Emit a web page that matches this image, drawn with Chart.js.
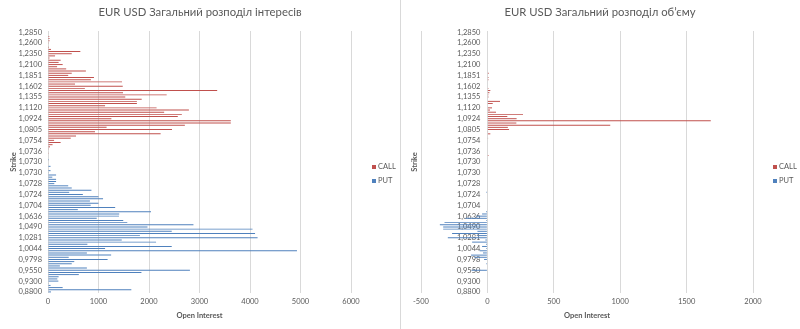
<!DOCTYPE html>
<html>
<head>
<meta charset="utf-8">
<script src="https://cdn.jsdelivr.net/npm/chart.js@4/dist/chart.umd.min.js"></script>
<style>
  html, body { margin: 0; padding: 0; background: #ffffff; }
  #wrap { position: relative; width: 800px; height: 329px; overflow: hidden; }
  .panel { position: absolute; top: 0; width: 400px; height: 329px; }
  #left { left: 0; }
  #right { left: 400px; }
  #divider { position: absolute; left: 400px; top: 0; width: 1px; height: 329px; background: #d9d9d9; }
</style>
</head>
<body>
<div id="wrap">
  <canvas id="left" class="panel" width="400" height="329"></canvas>
  <canvas id="right" class="panel" width="400" height="329"></canvas>
  <div id="divider"></div>
</div>
<script>
// Strike prices, bottom to top
const strikes = [
  '0,8800','0,8900','0,9000','0,9100','0,9200','0,9300','0,9350','0,9400','0,9450','0,9500',
  '0,9550','0,9600','0,9650','0,9700','0,9750','0,9798','0,9850','0,9900','0,9950','1,0000',
  '1,0044','1,0100','1,0150','1,0200','1,0250','1,0281','1,0300','1,0350','1,0400','1,0450',
  '1,0490','1,0500','1,0550','1,0600','1,0620','1,0636','1,0650','1,0670','1,0680','1,0690',
  '1,0704','1,0710','1,0715','1,0718','1,0720','1,0724','1,0725','1,0726','1,0727','1,0727',
  '1,0728','1,0728','1,0729','1,0729','1,0729','1,0730','1,0730','1,0730','1,0730','1,0730',
  '1,0730','1,0731','1,0731','1,0732','1,0734','1,0736','1,0738','1,0740','1,0745','1,0750',
  '1,0754','1,0760','1,0770','1,0780','1,0790','1,0805','1,0830','1,0850','1,0880','1,0900',
  '1,0924','1,0950','1,1000','1,1050','1,1100','1,1120','1,1150','1,1200','1,1250','1,1300',
  '1,1355','1,1400','1,1450','1,1500','1,1550','1,1602','1,1650','1,1700','1,1750','1,1800',
  '1,1851','1,1900','1,1950','1,2000','1,2050','1,2100','1,2150','1,2200','1,2250','1,2300',
  '1,2350','1,2400','1,2450','1,2500','1,2550','1,2600','1,2650','1,2700','1,2750','1,2800',
  '1,2850'
];

// Open interest: puts cover the lower strikes, calls the upper ones
const putOpenInterest = [
  60, 1650, 290, 50, 15, 205, 185, 210, 610, 1850,
  2810, 770, 235, 470, 520, 1180, 410, 1250, 770, 4930,
  1130, 2450, 780, 2140, 1460, 4150, 1820, 4100, 2450, 4050,
  1970, 2880, 1570, 1490, 965, 1405, 1410, 2040, 590, 1330,
  845, 1000, 830, 1090, 1000, 690, 420, 860, 470, 400,
  125, 160, 160, 85, 160, 15, 50, 0, 50, 0,
  0, 20
];
const callOpenInterest = [
  0, 0, 5, 10, 15, 40, 90, 250, 120, 450,
  555, 2230, 930, 2455, 1160, 2710, 3620, 3620, 1255, 2570,
  2650, 2300, 2790, 2150, 1130, 1760, 1760, 1855, 1530, 2350,
  1485, 3350, 730, 1480, 535, 1465, 850, 910, 400, 470,
  750, 360, 180, 290, 210, 250, 30, 140, 470, 640,
  60, 20, 0, 15, 30, 30, 25, 0, 10
];

// Volume (puts shown on the negative side)
const putVolume = [
  0, 0, 0, 0, 0, 0, 0, 0, 0, 0,
  -120, 0, 0, -8, 0, -25, -98, -123, -33, -58,
  -8, -40, -10, -115, -15, -298, -75, -266, -75, -333,
  -333, -358, -323, -8, -165, -83, -40, -10, 0, 0,
  0, 0, 0, 0, 0, 0, -8, 0, 0, 0,
  0, 0, 0, 0, 0, 0, 0, 0, 0, 0,
  0, 0
];
const callVolume = [
  0, 8, 0, 0, 0, 0, 0, 0, 0, 5,
  0, 22, 5, 163, 154, 925, 218, 1682, 220, 150,
  268, 65, 20, 35, 0, 40, 95, 0, 8, 8,
  15, 22, 8, 0, 0, 0, 8, 8, 0, 10,
  0, 0, 0, 0, 0, 0, 0, 0, 0, 0,
  0, 0, 0, 0, 0, 0, 0, 0, 0
];

const seriesNames = ['CALL', 'PUT'];
const LABEL_EVERY = 5;

const FONT = "Lato, 'Open Sans', sans-serif";
const TEXT = '#595959';
const GRID = '#d9d9d9';
const CALL_COLOR = '#C0504D';
const PUT_COLOR = '#4F81BD';

// Place puts and calls on their own strike rows, leaving the other side empty
function split(puts, calls) {
  return {
    put: puts.concat(calls.map(() => null)),
    call: puts.map(() => null).concat(calls)
  };
}

function decorations(opts) {
  return {
    id: 'decorations',
    beforeDatasetsDraw(chart) {
      const { ctx } = chart;
      const xs = chart.scales.x, ys = chart.scales.y;
      const x0 = xs.getPixelForValue(0) - opts.labelGap;
      ctx.save();
      ctx.font = `7.5px ${FONT}`;
      ctx.fillStyle = TEXT;
      ctx.textAlign = 'right';
      ctx.textBaseline = 'middle';
      strikes.forEach((s, i) => {
        if (i % LABEL_EVERY === 0) ctx.fillText(s, x0, ys.getPixelForValue(i));
      });
      ctx.restore();
    },
    afterDraw(chart) {
      const { ctx, chartArea } = chart;
      ctx.save();
      // chart title
      ctx.fillStyle = TEXT;
      ctx.font = `11.3px ${FONT}`;
      ctx.textAlign = 'center';
      ctx.textBaseline = 'middle';
      ctx.fillText(opts.title, chart.width / 2, 12);
      // category axis title
      ctx.font = `bold 7.5px ${FONT}`;
      ctx.translate(opts.strikeX, (chartArea.top + chartArea.bottom) / 2);
      ctx.rotate(-Math.PI / 2);
      ctx.fillText('Strike', 0, 0);
      ctx.setTransform(1, 0, 0, 1, 0, 0);
      // legend
      ctx.font = `7.5px ${FONT}`;
      ctx.textAlign = 'left';
      const colors = [CALL_COLOR, PUT_COLOR];
      seriesNames.forEach((name, k) => {
        const y = 167 + k * 14;
        ctx.fillStyle = colors[k];
        ctx.fillRect(opts.legendX, y - 2, 4, 4);
        ctx.fillStyle = TEXT;
        ctx.fillText(name, opts.legendX + 6, y);
      });
      ctx.restore();
    }
  };
}

function build(canvasId, puts, calls, axis, opts) {
  const d = split(puts, calls);
  return new Chart(document.getElementById(canvasId), {
    type: 'bar',
    data: {
      labels: strikes,
      datasets: [
        { label: seriesNames[0], data: d.call, backgroundColor: CALL_COLOR, borderWidth: 0, skipNull: true },
        { label: seriesNames[1], data: d.put, backgroundColor: PUT_COLOR, borderWidth: 0, skipNull: true }
      ]
    },
    options: {
      indexAxis: 'y',
      responsive: false,
      animation: false,
      events: [],
      categoryPercentage: 1,
      barPercentage: 0.45,
      layout: { padding: { left: opts.left, right: opts.right, top: 31, bottom: 0 } },
      plugins: { legend: { display: false }, tooltip: { enabled: false }, title: { display: false } },
      scales: {
        y: { display: false, reverse: true },
        x: {
          min: axis.min, max: axis.max,
          ticks: {
            stepSize: axis.step, color: TEXT, font: { family: FONT, size: 7.5 }, padding: 4,
            callback: (v) => String(v)
          },
          grid: { color: GRID, drawTicks: false },
          border: { display: false },
          title: {
            display: true, text: 'Open Interest', color: TEXT,
            font: { family: FONT, size: 7.5, weight: 'bold' },
            padding: { top: 0, bottom: 9 }
          },
          afterFit(s) { s.height = 36; }
        }
      }
    },
    plugins: [decorations(opts)]
  });
}

build('left', putOpenInterest, callOpenInterest,
  { min: 0, max: 6000, step: 1000 },
  { left: 48, right: 49, labelGap: 6, strikeX: 13.5, legendX: 372,
    title: 'EUR USD Загальний розподіл інтересів' });

build('right', putVolume, callVolume,
  { min: -500, max: 2000, step: 500 },
  { left: 21, right: 47, labelGap: 7, strikeX: 15, legendX: 373,
    title: 'EUR USD Загальний розподіл об’єму' });
</script>
</body>
</html>
